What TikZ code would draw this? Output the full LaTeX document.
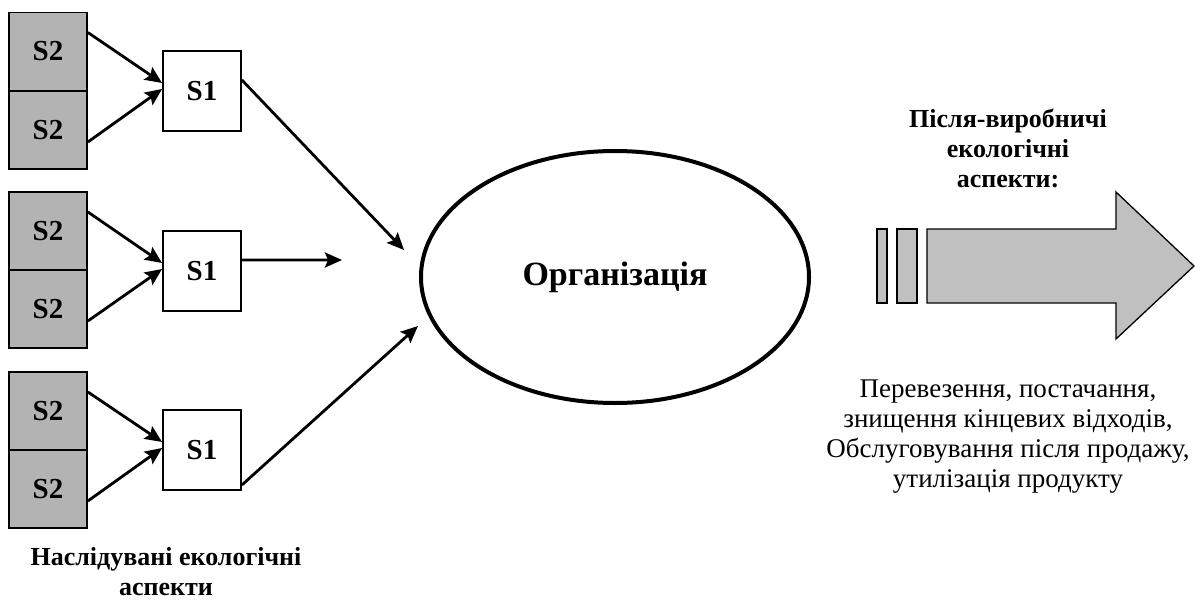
\documentclass[tikz,border=0pt]{standalone}
\usepackage{fontspec}
\setmainfont{Liberation Serif}
\usetikzlibrary{arrows.meta,shapes.geometric,calc}
\definecolor{sgray}{HTML}{B3B3B3}
\definecolor{agray}{HTML}{C0C0C0}
\tikzset{
  sbox/.style={draw=black,line width=1.8bp,fill=sgray,minimum width=78bp,minimum height=78bp,inner sep=0pt,font=\fontsize{29bp}{32bp}\selectfont\bfseries},
  pbox/.style={draw=black,line width=1.8bp,fill=white,minimum width=78bp,minimum height=80bp,inner sep=0pt,font=\fontsize{29bp}{32bp}\selectfont\bfseries},
  conn/.style={line width=2.8bp,-{Stealth[length=17bp,width=15bp,inset=3bp]}},
  big/.style={draw=black,line width=1.3bp,fill=agray}
}
\begin{document}
\begin{tikzpicture}[x=1bp,y=-1bp]
\useasboundingbox (0,0) rectangle (1195,604);
% group 1
\node[sbox] (a1) at (48,51.5) {S2};
\node[sbox] (a2) at (48,130) {S2};
\node[pbox] (p1) at (202,91) {S1};
% group 2
\node[sbox] (b1) at (48,231) {S2};
\node[sbox] (b2) at (48,309) {S2};
\node[pbox] (p2) at (202,271) {S1};
% group 3
\node[sbox] (c1) at (48,411) {S2};
\node[sbox] (c2) at (48,489) {S2};
\node[pbox] (p3) at (202,450) {S1};
% organisation
\node[ellipse,draw=black,line width=4bp,minimum width=388bp,minimum height=252bp,inner sep=0pt,font=\fontsize{34bp}{38bp}\selectfont\bfseries] (org) at (615,277) {Організація};
\coordinate (e1) at (404,250);
\coordinate (e2) at (342,260);
\coordinate (e3) at (418,326);
% S2 -> S1
\draw[conn] ([yshift=19bp]a1.east) -- ([yshift=8bp]p1.west);
\draw[conn] ([yshift=-12bp]a2.east) -- ([yshift=2bp]p1.west);
\draw[conn] ([yshift=19bp]b1.east) -- ([yshift=8bp]p2.west);
\draw[conn] ([yshift=-12bp]b2.east) -- ([yshift=2bp]p2.west);
\draw[conn] ([yshift=19bp]c1.east) -- ([yshift=8bp]p3.west);
\draw[conn] ([yshift=-12bp]c2.east) -- ([yshift=2bp]p3.west);
% S1 -> organisation
\draw[conn] ([yshift=11bp]p1.east) -- (e1);
\draw[conn] ([yshift=11bp]p2.east) -- (e2);
\draw[conn] ([yshift=-35bp]p3.east) -- (e3);
% big arrow
\draw[big] (877,229) rectangle (887,303);
\draw[big] (897,229) rectangle (917,303);
\draw[big,line join=miter] (927,229) -- (1116,229) -- (1116,192) -- (1194,266) -- (1116,339) -- (1116,303) -- (927,303) -- cycle;
% texts
\node[align=center,font=\fontsize{26bp}{30bp}\selectfont\bfseries] (t1) at (1008,148) {Після-виробничі\\екологічні\\аспекти:};
\node[align=center,font=\fontsize{27bp}{30bp}\selectfont] (t2) at (1008,437) {Перевезення, постачання,\\знищення кінцевих відходів,\\Обслуговування після продажу,\\утилізація продукту};
\node[align=center,font=\fontsize{26bp}{30bp}\selectfont\bfseries] (t3) at (166,572) {Наслідувані екологічні\\аспекти};
\end{tikzpicture}
\end{document}
